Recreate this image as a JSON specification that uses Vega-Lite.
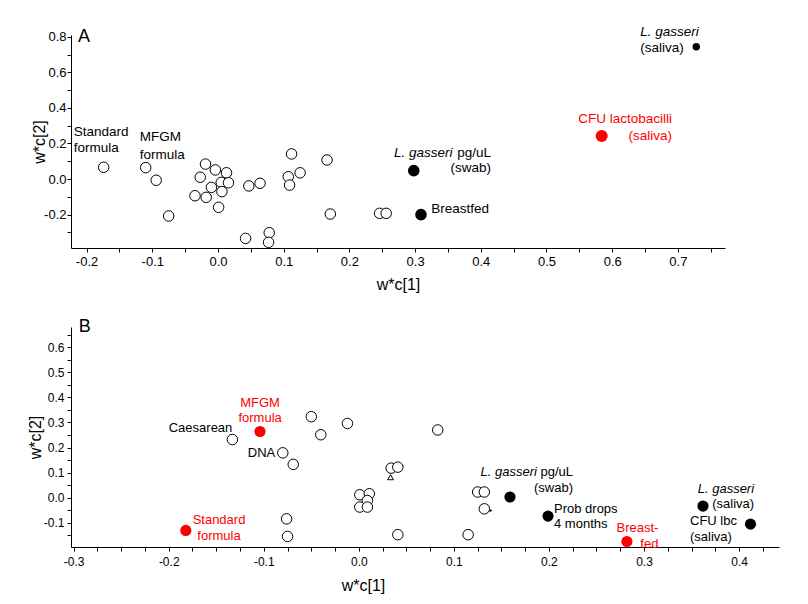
{
  "$schema": "https://vega.github.io/schema/vega-lite/v6.json",
  "padding": {"left": 27, "top": 25, "right": 5, "bottom": 5},
  "spacing": 26,
  "config": {
    "view": {"stroke": null},
    "font": "Liberation Sans",
    "axis": {"grid": false, "domainColor": "black", "tickColor": "black", "labelColor": "black", "titleColor": "black", "labelFont": "Liberation Sans", "titleFont": "Liberation Sans", "labelFontSize": 13, "titleFontSize": 16, "titleFontWeight": "normal", "tickSize": 4, "domainWidth": 1, "tickWidth": 1, "labelFlush": false, "labelOverlap": false},
    "text": {"font": "Liberation Sans"}
  },
  "datasets": {
    "ptsA": [
      {"x": -0.174, "y": 0.066, "k": "open"}, {"x": -0.110, "y": 0.064, "k": "open"}, {"x": -0.094, "y": -0.007, "k": "open"},
      {"x": -0.075, "y": -0.208, "k": "open"}, {"x": -0.019, "y": 0.084, "k": "open"}, {"x": -0.027, "y": 0.010, "k": "open"},
      {"x": -0.004, "y": 0.051, "k": "open"}, {"x": 0.013, "y": 0.035, "k": "open"}, {"x": -0.010, "y": -0.047, "k": "open"},
      {"x": 0.005, "y": -0.019, "k": "open"}, {"x": 0.006, "y": -0.071, "k": "open"}, {"x": 0.016, "y": -0.021, "k": "open"},
      {"x": -0.035, "y": -0.094, "k": "open"}, {"x": -0.018, "y": -0.103, "k": "open"}, {"x": 0.001, "y": -0.159, "k": "open"},
      {"x": 0.047, "y": -0.039, "k": "open"}, {"x": 0.064, "y": -0.024, "k": "open"}, {"x": 0.042, "y": -0.334, "k": "open"},
      {"x": 0.078, "y": -0.302, "k": "open"}, {"x": 0.077, "y": -0.356, "k": "open"}, {"x": 0.112, "y": 0.141, "k": "open"},
      {"x": 0.107, "y": 0.013, "k": "open"}, {"x": 0.125, "y": 0.035, "k": "open"}, {"x": 0.109, "y": -0.034, "k": "open"},
      {"x": 0.166, "y": 0.107, "k": "open"}, {"x": 0.171, "y": -0.197, "k": "open"}, {"x": 0.246, "y": -0.193, "k": "open"},
      {"x": 0.256, "y": -0.193, "k": "open"},
      {"x": 0.298, "y": 0.047, "k": "black"}, {"x": 0.309, "y": -0.200, "k": "black"},
      {"x": 0.728, "y": 0.744, "k": "small"},
      {"x": 0.584, "y": 0.242, "k": "red"}
    ],
    "lblA": [
      {"x": -0.2131, "y": 0.8, "t": "A", "al": "panel", "sp": "no", "hl": "no"},
      {"x": -0.2196, "y": 0.2625, "t": "Standard", "al": "left", "sp": "no", "hl": "no"},
      {"x": -0.2196, "y": 0.1726, "t": "formula", "al": "left", "sp": "no", "hl": "no"},
      {"x": -0.1192, "y": 0.2344, "t": "MFGM", "al": "left", "sp": "no", "hl": "no"},
      {"x": -0.1192, "y": 0.1349, "t": "formula", "al": "left", "sp": "no", "hl": "no"},
      {"x": 0.2679, "y": 0.1478, "t": "L. gasseri", "al": "left", "sp": "yes", "hl": "no"},
      {"x": 0.4155, "y": 0.1478, "t": "pg/uL", "al": "right", "sp": "no", "hl": "no"},
      {"x": 0.4155, "y": 0.0601, "t": "(swab)", "al": "right", "sp": "no", "hl": "no"},
      {"x": 0.3247, "y": -0.1703, "t": "Breastfed", "al": "left", "sp": "no", "hl": "no"},
      {"x": 0.691, "y": 0.3373, "t": "CFU lactobacilli", "al": "right", "sp": "no", "hl": "yes"},
      {"x": 0.691, "y": 0.2417, "t": "(saliva)", "al": "right", "sp": "no", "hl": "yes"},
      {"x": 0.6428, "y": 0.8246, "t": "L. gasseri", "al": "left", "sp": "yes", "hl": "no"},
      {"x": 0.6428, "y": 0.7347, "t": "(saliva)", "al": "left", "sp": "no", "hl": "no"}
    ],
    "ptsB": [
      {"x": 0.0333, "y": 0.082, "k": "tri"}, {"x": 0.139, "y": -0.051, "k": "tri2"},
      {"x": -0.133, "y": 0.232, "k": "open"}, {"x": -0.080, "y": 0.179, "k": "open"}, {"x": -0.069, "y": 0.133, "k": "open"},
      {"x": -0.050, "y": 0.323, "k": "open"}, {"x": -0.040, "y": 0.251, "k": "open"}, {"x": -0.012, "y": 0.296, "k": "open"},
      {"x": -0.076, "y": -0.084, "k": "open"}, {"x": -0.075, "y": -0.154, "k": "open"}, {"x": 0.001, "y": 0.012, "k": "open"},
      {"x": 0.011, "y": 0.016, "k": "open"}, {"x": 0.009, "y": -0.011, "k": "open"}, {"x": 0.001, "y": -0.037, "k": "open"},
      {"x": 0.009, "y": -0.037, "k": "open"}, {"x": 0.034, "y": 0.118, "k": "open"}, {"x": 0.041, "y": 0.122, "k": "open"},
      {"x": 0.041, "y": -0.147, "k": "open"}, {"x": 0.083, "y": 0.270, "k": "open"}, {"x": 0.125, "y": 0.023, "k": "open"},
      {"x": 0.132, "y": 0.023, "k": "open"}, {"x": 0.132, "y": -0.044, "k": "open"}, {"x": 0.115, "y": -0.147, "k": "open"},
      {"x": 0.159, "y": 0.003, "k": "black"}, {"x": 0.199, "y": -0.073, "k": "black"}, {"x": 0.362, "y": -0.033, "k": "black"},
      {"x": 0.412, "y": -0.105, "k": "black"},
      {"x": -0.182, "y": -0.130, "k": "red"}, {"x": -0.104, "y": 0.264, "k": "red"}, {"x": 0.282, "y": -0.174, "k": "red"}
    ],
    "lblB": [
      {"x": -0.2947, "y": 0.68, "t": "B", "al": "panel", "sp": "no", "hl": "no"},
      {"x": -0.1039, "y": 0.3785, "t": "MFGM", "al": "center", "sp": "no", "hl": "yes"},
      {"x": -0.1039, "y": 0.3187, "t": "formula", "al": "center", "sp": "no", "hl": "yes"},
      {"x": -0.2, "y": 0.2777, "t": "Caesarean", "al": "left", "sp": "no", "hl": "no"},
      {"x": -0.1168, "y": 0.1793, "t": "DNA", "al": "left", "sp": "no", "hl": "no"},
      {"x": -0.1471, "y": -0.0876, "t": "Standard", "al": "center", "sp": "no", "hl": "yes"},
      {"x": -0.1471, "y": -0.1514, "t": "formula", "al": "center", "sp": "no", "hl": "yes"},
      {"x": 0.128, "y": 0.1024, "t": "L. gasseri", "al": "left", "sp": "yes", "hl": "no"},
      {"x": 0.2253, "y": 0.1024, "t": "pg/uL", "al": "right", "sp": "no", "hl": "no"},
      {"x": 0.2253, "y": 0.0398, "t": "(swab)", "al": "right", "sp": "no", "hl": "no"},
      {"x": 0.2053, "y": -0.0438, "t": "Prob drops", "al": "left", "sp": "no", "hl": "no"},
      {"x": 0.2053, "y": -0.1064, "t": "4 months", "al": "left", "sp": "no", "hl": "no"},
      {"x": 0.3151, "y": -0.1207, "t": "Breast-", "al": "right", "sp": "no", "hl": "yes"},
      {"x": 0.3151, "y": -0.1833, "t": "fed", "al": "right", "sp": "no", "hl": "yes"},
      {"x": 0.4158, "y": 0.0331, "t": "L. gasseri", "al": "right", "sp": "yes", "hl": "no"},
      {"x": 0.4158, "y": -0.0267, "t": "(saliva)", "al": "right", "sp": "no", "hl": "no"},
      {"x": 0.3484, "y": -0.0928, "t": "CFU lbc", "al": "left", "sp": "no", "hl": "no"},
      {"x": 0.3484, "y": -0.1554, "t": "(saliva)", "al": "left", "sp": "no", "hl": "no"}
    ]
  },
  "vconcat": [
    {
      "width": 654,
      "height": 213,
      "encoding": {
        "x": {"field": "x", "type": "quantitative", "scale": {"domain": [-0.2237, 0.7717], "nice": false, "zero": false},
          "axis": {"title": "w*c[1]", "values": [-0.2, -0.15, -0.1, -0.05, 0, 0.05, 0.1, 0.15, 0.2, 0.25, 0.3, 0.35, 0.4, 0.45, 0.5, 0.55, 0.6, 0.65, 0.7, 0.75],
            "labelExpr": "abs(datum.value*10-round(datum.value*10))<0.01 ? (datum.value < -0.001 ? '-' : '') + format(abs(datum.value), '.1f') : ''",
            "labelPadding": 3, "titleY": 36, "titleBaseline": "middle"}},
        "y": {"field": "y", "type": "quantitative", "scale": {"domain": [-0.388, 0.81], "nice": false, "zero": false},
          "axis": {"title": "w*c[2]", "values": [-0.3, -0.2, -0.1, 0, 0.1, 0.2, 0.3, 0.4, 0.5, 0.6, 0.7, 0.8],
            "labelExpr": "abs(datum.value*5-round(datum.value*5))<0.01 ? (datum.value < -0.001 ? '-' : '') + format(abs(datum.value), '.1f') : ''",
            "labelPadding": 1, "titleX": -32, "titleBaseline": "middle"}}
      },
      "layer": [
        {"data": {"values": [{}]}, "mark": {"type": "rule", "color": "black", "strokeWidth": 1},
          "encoding": {"x": {"datum": 0}, "y": {"datum": -0.388}, "y2": {"datum": 0.81}}},
        {"data": {"values": [{}]}, "mark": {"type": "rule", "color": "black", "strokeWidth": 1},
          "encoding": {"y": {"datum": 0}, "x": {"datum": -0.2237}, "x2": {"datum": 0.7717}}},
        {"data": {"name": "ptsA"}, "transform": [{"filter": "datum.k == 'open'"}],
          "mark": {"type": "point", "shape": "circle", "filled": true, "fill": "white", "stroke": "black", "strokeWidth": 1, "size": 110, "opacity": 1}},
        {"data": {"name": "ptsA"}, "transform": [{"filter": "datum.k == 'black'"}],
          "mark": {"type": "point", "shape": "circle", "filled": true, "color": "black", "size": 135, "opacity": 1}},
        {"data": {"name": "ptsA"}, "transform": [{"filter": "datum.k == 'small'"}],
          "mark": {"type": "point", "shape": "circle", "filled": true, "color": "black", "size": 55, "opacity": 1}},
        {"data": {"name": "ptsA"}, "transform": [{"filter": "datum.k == 'red'"}],
          "mark": {"type": "point", "shape": "circle", "filled": true, "color": "#ff0000", "size": 145, "opacity": 1}},
        {"data": {"name": "lblA"}, "transform": [{"filter": "datum.al == 'left' && datum.sp == 'no'"}],
          "mark": {"type": "text", "align": "left", "baseline": "middle", "fontSize": 13.5},
          "encoding": {"text": {"field": "t"}, "color": {"field": "hl", "type": "nominal", "scale": {"domain": ["no", "yes"], "range": ["black", "#ff0000"]}, "legend": null}}},
        {"data": {"name": "lblA"}, "transform": [{"filter": "datum.al == 'left' && datum.sp == 'yes'"}],
          "mark": {"type": "text", "align": "left", "baseline": "middle", "fontSize": 13.5, "fontStyle": "italic"},
          "encoding": {"text": {"field": "t"}, "color": {"field": "hl", "type": "nominal", "scale": {"domain": ["no", "yes"], "range": ["black", "#ff0000"]}, "legend": null}}},
        {"data": {"name": "lblA"}, "transform": [{"filter": "datum.al == 'right' && datum.sp == 'no'"}],
          "mark": {"type": "text", "align": "right", "baseline": "middle", "fontSize": 13.5},
          "encoding": {"text": {"field": "t"}, "color": {"field": "hl", "type": "nominal", "scale": {"domain": ["no", "yes"], "range": ["black", "#ff0000"]}, "legend": null}}},
        {"data": {"name": "lblA"}, "transform": [{"filter": "datum.al == 'panel'"}],
          "mark": {"type": "text", "align": "left", "baseline": "middle", "fontSize": 18, "color": "black"},
          "encoding": {"text": {"field": "t"}}}
      ]
    },
    {
      "width": 708,
      "height": 220,
      "encoding": {
        "x": {"field": "x", "type": "quantitative", "scale": {"domain": [-0.3028, 0.442], "nice": false, "zero": false},
          "axis": {"title": "w*c[1]", "values": [-0.3, -0.275, -0.25, -0.225, -0.2, -0.175, -0.15, -0.125, -0.1, -0.075, -0.05, -0.025, 0, 0.025, 0.05, 0.075, 0.1, 0.125, 0.15, 0.175, 0.2, 0.225, 0.25, 0.275, 0.3, 0.325, 0.35, 0.375, 0.4, 0.425],
            "labelExpr": "abs(datum.value*10-round(datum.value*10))<0.01 ? (datum.value < -0.001 ? '-' : '') + format(abs(datum.value), '.1f') : ''",
            "labelPadding": 5, "labelFontSize": 12, "titleX": 292, "titleY": 38.7, "titleBaseline": "middle"}},
        "y": {"field": "y", "type": "quantitative", "scale": {"domain": [-0.196, 0.68], "nice": false, "zero": false},
          "axis": {"title": "w*c[2]", "values": [-0.15, -0.1, -0.05, 0, 0.05, 0.1, 0.15, 0.2, 0.25, 0.3, 0.35, 0.4, 0.45, 0.5, 0.55, 0.6, 0.65],
            "labelExpr": "abs(datum.value*10-round(datum.value*10))<0.01 ? (datum.value < -0.001 ? '-' : '') + format(abs(datum.value), '.1f') : ''",
            "labelPadding": 3, "labelFontSize": 12, "titleX": -36, "titleBaseline": "middle"}}
      },
      "layer": [
        {"data": {"values": [{}]}, "mark": {"type": "rule", "color": "black", "strokeWidth": 1},
          "encoding": {"x": {"datum": 0}, "y": {"datum": -0.196}, "y2": {"datum": 0.68}}},
        {"data": {"values": [{}]}, "mark": {"type": "rule", "color": "black", "strokeWidth": 1},
          "encoding": {"y": {"datum": 0}, "x": {"datum": -0.3028}, "x2": {"datum": 0.442}}},
        {"data": {"name": "ptsB"}, "transform": [{"filter": "datum.k == 'tri'"}],
          "mark": {"type": "point", "shape": "triangle-up", "filled": true, "fill": "white", "stroke": "black", "strokeWidth": 1, "size": 35, "opacity": 1}},
        {"data": {"name": "ptsB"}, "transform": [{"filter": "datum.k == 'tri2'"}],
          "mark": {"type": "point", "shape": "triangle-right", "filled": true, "color": "black", "size": 10, "opacity": 1}},
        {"data": {"name": "ptsB"}, "transform": [{"filter": "datum.k == 'open'"}],
          "mark": {"type": "point", "shape": "circle", "filled": true, "fill": "white", "stroke": "black", "strokeWidth": 1, "size": 110, "opacity": 1}},
        {"data": {"name": "ptsB"}, "transform": [{"filter": "datum.k == 'black'"}],
          "mark": {"type": "point", "shape": "circle", "filled": true, "color": "black", "size": 125, "opacity": 1}},
        {"data": {"name": "ptsB"}, "transform": [{"filter": "datum.k == 'red'"}],
          "mark": {"type": "point", "shape": "circle", "filled": true, "color": "#ff0000", "size": 125, "opacity": 1}},
        {"data": {"name": "lblB"}, "transform": [{"filter": "datum.al == 'left' && datum.sp == 'no'"}],
          "mark": {"type": "text", "align": "left", "baseline": "middle", "fontSize": 13},
          "encoding": {"text": {"field": "t"}, "color": {"field": "hl", "type": "nominal", "scale": {"domain": ["no", "yes"], "range": ["black", "#ff0000"]}, "legend": null}}},
        {"data": {"name": "lblB"}, "transform": [{"filter": "datum.al == 'left' && datum.sp == 'yes'"}],
          "mark": {"type": "text", "align": "left", "baseline": "middle", "fontSize": 13, "fontStyle": "italic"},
          "encoding": {"text": {"field": "t"}, "color": {"field": "hl", "type": "nominal", "scale": {"domain": ["no", "yes"], "range": ["black", "#ff0000"]}, "legend": null}}},
        {"data": {"name": "lblB"}, "transform": [{"filter": "datum.al == 'right' && datum.sp == 'no'"}],
          "mark": {"type": "text", "align": "right", "baseline": "middle", "fontSize": 13},
          "encoding": {"text": {"field": "t"}, "color": {"field": "hl", "type": "nominal", "scale": {"domain": ["no", "yes"], "range": ["black", "#ff0000"]}, "legend": null}}},
        {"data": {"name": "lblB"}, "transform": [{"filter": "datum.al == 'right' && datum.sp == 'yes'"}],
          "mark": {"type": "text", "align": "right", "baseline": "middle", "fontSize": 13, "fontStyle": "italic"},
          "encoding": {"text": {"field": "t"}, "color": {"field": "hl", "type": "nominal", "scale": {"domain": ["no", "yes"], "range": ["black", "#ff0000"]}, "legend": null}}},
        {"data": {"name": "lblB"}, "transform": [{"filter": "datum.al == 'center'"}],
          "mark": {"type": "text", "align": "center", "baseline": "middle", "fontSize": 13},
          "encoding": {"text": {"field": "t"}, "color": {"field": "hl", "type": "nominal", "scale": {"domain": ["no", "yes"], "range": ["black", "#ff0000"]}, "legend": null}}},
        {"data": {"name": "lblB"}, "transform": [{"filter": "datum.al == 'panel'"}],
          "mark": {"type": "text", "align": "left", "baseline": "middle", "fontSize": 18, "color": "black"},
          "encoding": {"text": {"field": "t"}}}
      ]
    }
  ]
}
